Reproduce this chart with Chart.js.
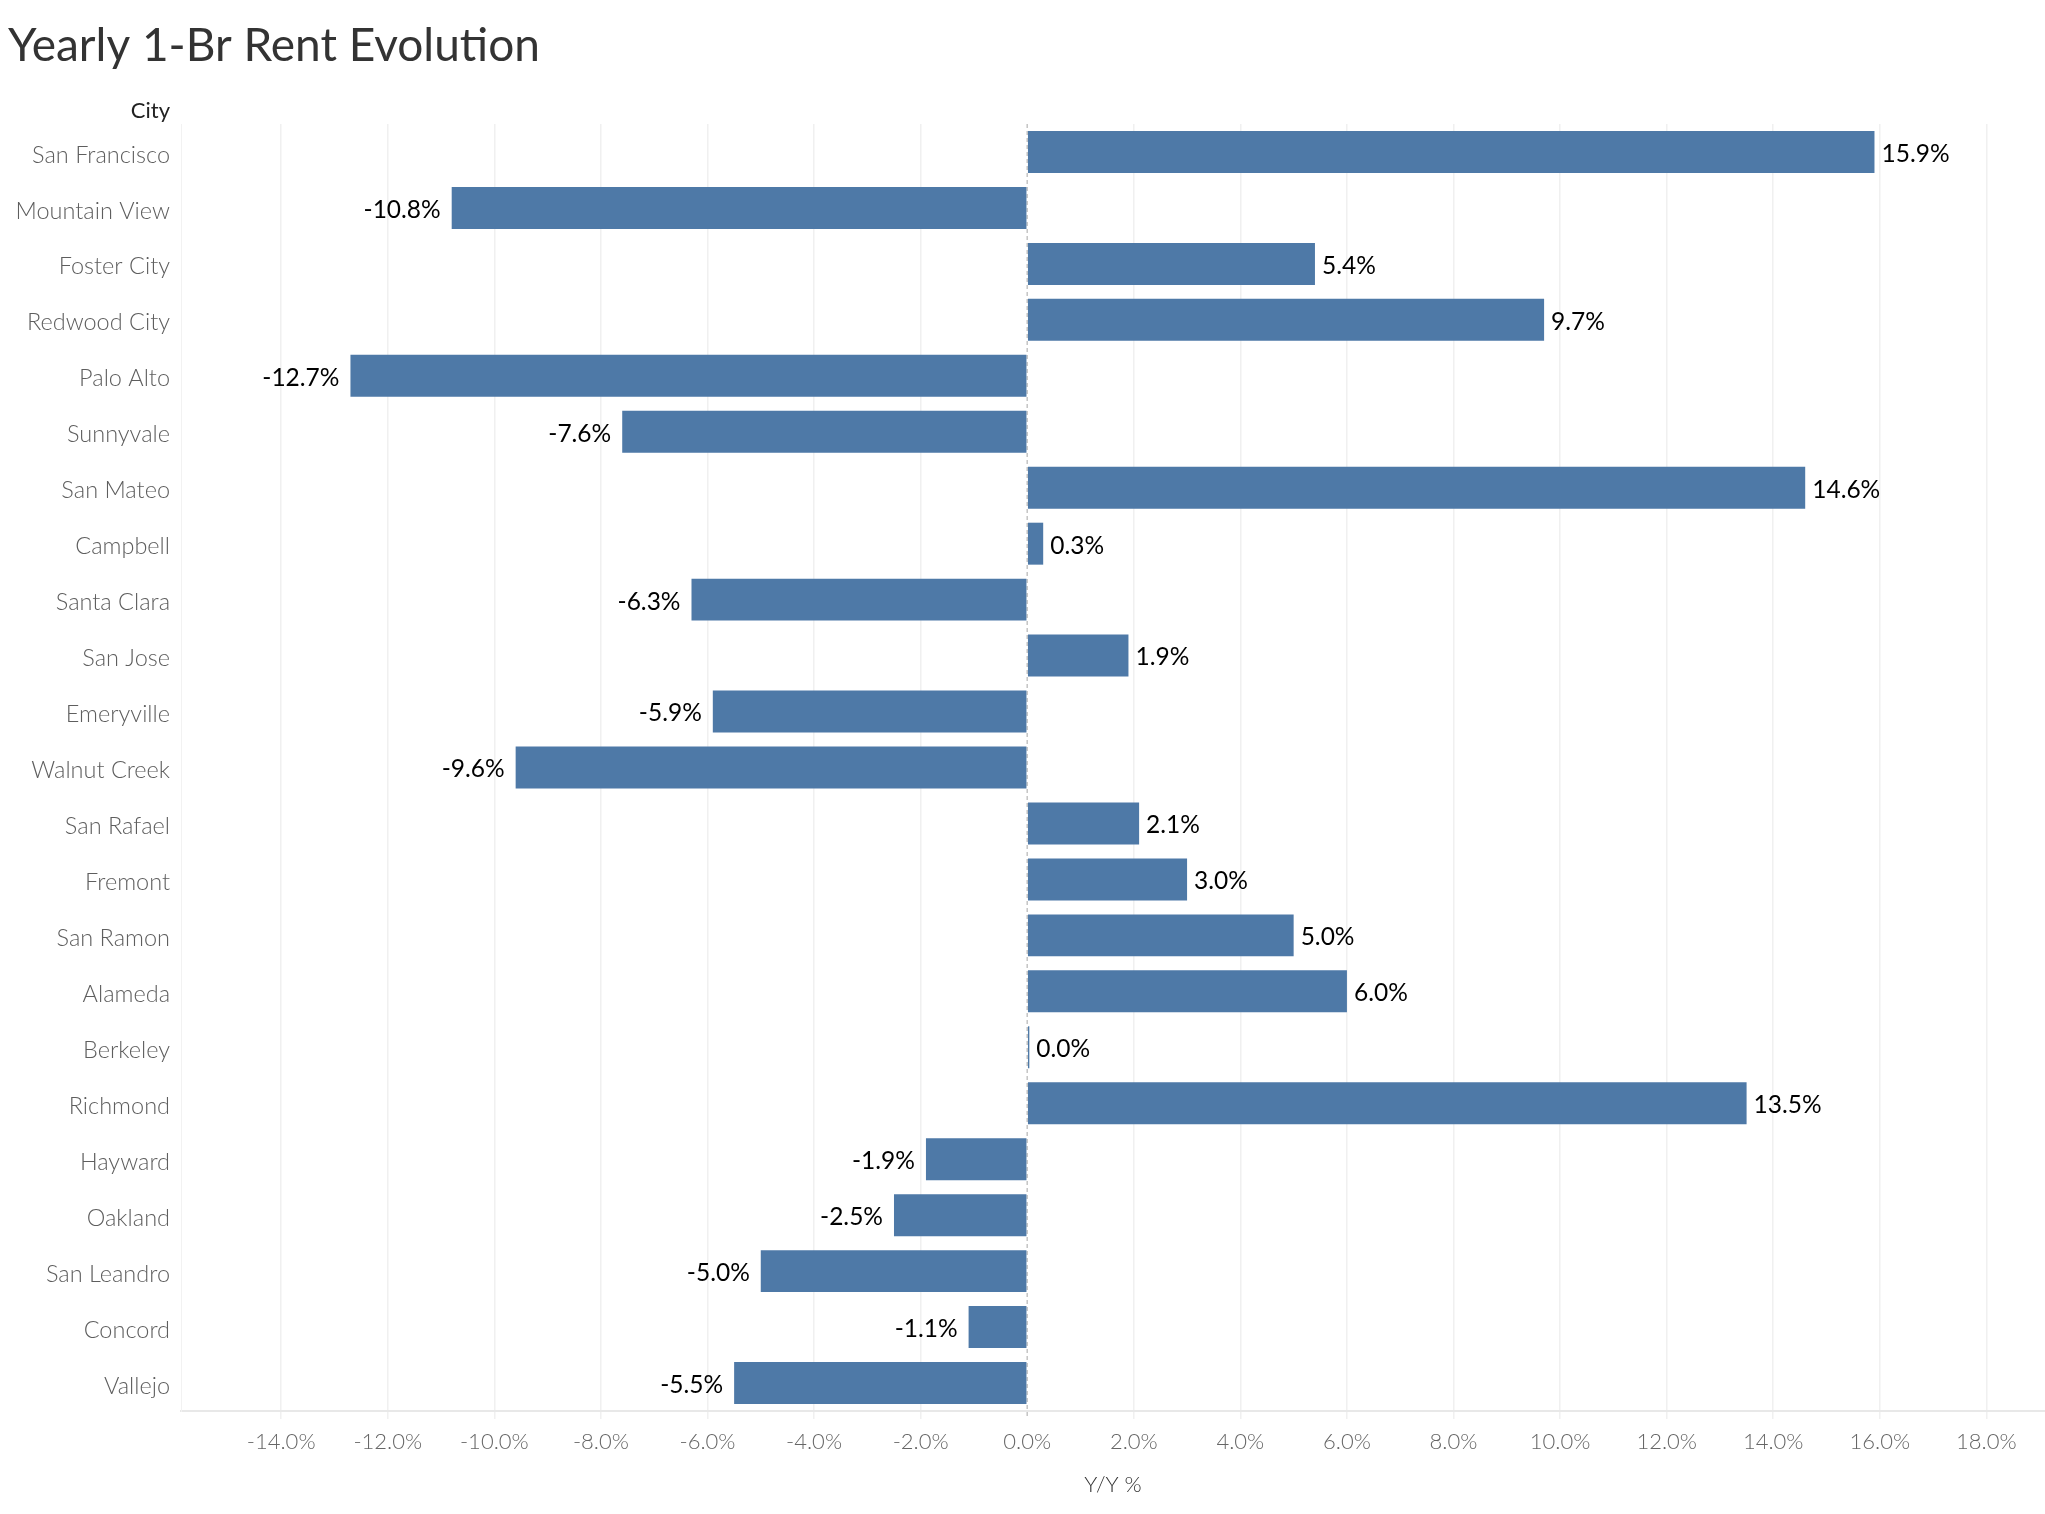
<!DOCTYPE html>
<html>
<head>
<meta charset="utf-8">
<title>Yearly 1-Br Rent Evolution</title>
<script src="https://cdn.jsdelivr.net/npm/chart.js@4.4.1/dist/chart.umd.min.js"></script>
<style>
  html, body { margin: 0; padding: 0; background: #fff; }
  #wrap { width: 2045px; height: 1514px; position: relative; }
</style>
</head>
<body>
<div id="wrap"><canvas id="myChart"></canvas></div>
<script>
// values (Y/Y %)
const cities = [
  'San Francisco', 'Mountain View', 'Foster City', 'Redwood City', 'Palo Alto',
  'Sunnyvale', 'San Mateo', 'Campbell', 'Santa Clara', 'San Jose', 'Emeryville',
  'Walnut Creek', 'San Rafael', 'Fremont', 'San Ramon', 'Alameda', 'Berkeley',
  'Richmond', 'Hayward', 'Oakland', 'San Leandro', 'Concord', 'Vallejo'
]
const yoyChange = [
  15.9, -10.8, 5.4, 9.7, -12.7,
  -7.6, 14.6, 0.3, -6.3, 1.9, -5.9,
  -9.6, 2.1, 3.0, 5.0, 6.0, 0.04,
  13.5, -1.9, -2.5, -5.0, -1.1, -5.5
]
const xTicks = [-14, -12, -10, -8, -6, -4, -2, 0, 2, 4, 6, 8, 10, 12, 14, 16, 18]

const FONT = 'Lato, "Noto Sans", sans-serif'
const pct = (v) => v.toFixed(1) + '%'

// title, "City" header, dashed zero line and bar value labels
const extras = {
  id: 'extras',
  beforeDatasetsDraw(chart) {
    const {ctx, chartArea, scales} = chart
    const x0 = scales.x.getPixelForValue(0)
    ctx.save()
    ctx.strokeStyle = '#c4c4c4'
    ctx.lineWidth = 1.5
    ctx.setLineDash([4, 3])
    ctx.beginPath()
    ctx.moveTo(x0, chartArea.top)
    ctx.lineTo(x0, chartArea.bottom + 8)
    ctx.stroke()
    ctx.restore()
  },
  afterDatasetsDraw(chart) {
    const {ctx} = chart
    const meta = chart.getDatasetMeta(0)
    ctx.save()
    ctx.font = '24.5px ' + FONT
    ctx.fillStyle = '#000'
    ctx.textBaseline = 'middle'
    meta.data.forEach((bar, i) => {
      const v = yoyChange[i]
      if (v >= 0) {
        ctx.textAlign = 'left'
        ctx.fillText(pct(v), bar.x + 7, bar.y + 2)
      } else {
        ctx.textAlign = 'right'
        ctx.fillText(pct(v), bar.x - 11, bar.y + 2)
      }
    })
    ctx.restore()
  },
  afterDraw(chart) {
    const {ctx} = chart
    ctx.save()
    ctx.textBaseline = 'alphabetic'
    ctx.textAlign = 'left'
    ctx.fillStyle = '#333'
    ctx.font = '46px ' + FONT
    ctx.fillText('Yearly 1-Br Rent Evolution', 8, 61)
    ctx.textAlign = 'right'
    ctx.textBaseline = 'middle'
    ctx.font = '22px ' + FONT
    ctx.fillStyle = '#222'
    ctx.fillText('City', 170, 111)
    ctx.restore()
  }
}

const data = {
  labels: cities,
  datasets: [
    {
      label: 'Y/Y %',
      data: yoyChange,
      backgroundColor: '#4e79a7',
      borderWidth: 0,
      barPercentage: 0.75,
      categoryPercentage: 1.0
    }
  ]
}

const config = {
  type: 'bar',
  data: data,
  options: {
    indexAxis: 'y',
    responsive: true,
    maintainAspectRatio: false,
    animation: false,
    layout: {
      padding: { top: 124, left: 0, right: 0, bottom: 0 }
    },
    plugins: {
      legend: { display: false },
      title: { display: false },
      tooltip: { enabled: false }
    },
    scales: {
      x: {
        type: 'linear',
        min: -15.88,
        max: 19.1,
        afterBuildTicks: (axis) => {
          axis.ticks = xTicks.map((v) => ({ value: v }))
        },
        afterFit: (axis) => { axis.height = 103 },
        grid: {
          color: (c) => (c.tick && c.tick.value === 0 ? 'rgba(0,0,0,0)' : '#f0f0f0'),
          lineWidth: 1.5,
          tickLength: 8
        },
        border: { color: '#e8e8e8', width: 2 },
        ticks: {
          padding: 10,
          color: '#666',
          font: { family: FONT, size: 22, weight: 300 },
          callback: (v) => pct(v)
        },
        title: {
          display: true,
          text: 'Y/Y %',
          color: '#333',
          font: { family: FONT, size: 22, weight: 300 },
          padding: { top: 0, bottom: 16 }
        }
      },
      y: {
        afterFit: (axis) => { axis.width = 181 },
        grid: { display: false, drawTicks: false },
        border: { display: true, color: '#f2f2f2', width: 1 },
        ticks: {
          padding: 11,
          labelOffset: 3,
          color: '#5e5e5e',
          font: { family: FONT, size: 23.5, weight: 300 }
        }
      }
    }
  },
  plugins: [extras]
}

const myChart = new Chart(document.getElementById('myChart'), config)
</script>
</body>
</html>
